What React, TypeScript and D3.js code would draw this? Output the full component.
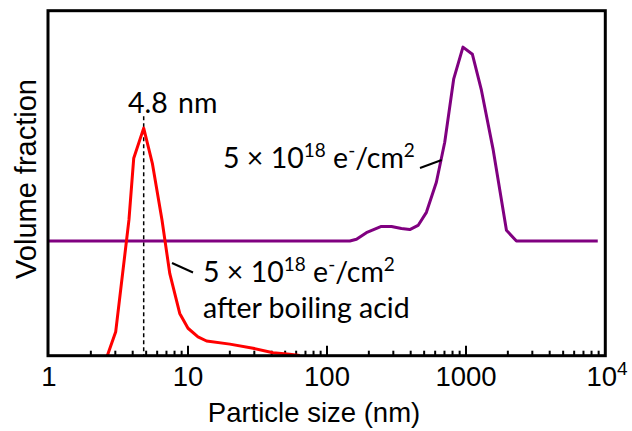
import React from "react";
import * as d3 from "d3";

const redSize = [2.63, 3.02, 3.76, 4.07, 4.8, 5.54, 6.5, 7.39, 8.72, 10, 11.8, 13.6, 20, 29.4, 40.9, 53.9, 63.6];
const redValue = [0, 0.069, 0.393, 0.572, 0.659, 0.557, 0.393, 0.238, 0.122, 0.079, 0.054, 0.042, 0.033, 0.021, 0.008, 0.004, 0];

const purpleSize = [1, 146, 163, 192, 246, 291, 343, 394, 452, 519, 612, 703, 816, 951, 1112, 1291, 1564, 1954, 2305, 8870];
const purpleValue = [0.332, 0.332, 0.337, 0.356, 0.374, 0.374, 0.368, 0.365, 0.377, 0.415, 0.502, 0.618, 0.802, 0.894, 0.873, 0.769, 0.599, 0.363, 0.332, 0.332];

const majorTicks = [1, 10, 100, 1000, 10000];
const tickLabels = ["1", "10", "100", "1000", "10^4"];
const peakSize = 4.8;
const peakLabel = "4.8 nm";

const W = 632;
const H = 431;
const frame = { left: 48, right: 605.3, top: 10.7, bottom: 355.7 };
const ANN = "Lato, 'Open Sans', sans-serif";
const AX = "'Liberation Sans', Arial, sans-serif";
const FS = 28.5;
const SUP = 19;
const AXFS = 27.5;

function Dose({ x, y }: { x: number; y: number }) {
  return (
    <text x={x} y={y} fontSize={FS} fontFamily={ANN} fill="#000">
      5 × 10
      <tspan dy={-11} fontSize={SUP}>18</tspan>
      <tspan dy={11}> e</tspan>
      <tspan dy={-11} fontSize={SUP}>-</tspan>
      <tspan dy={11}>/cm</tspan>
      <tspan dy={-11} fontSize={SUP}>2</tspan>
    </text>
  );
}

export default function App() {
  const x = d3.scaleLog().domain([1, 10000]).range([49, 605]);
  const y = d3.scaleLinear().domain([0, 1]).range([355.5, 10.5]);

  const line = d3
    .line<[number, number]>()
    .x((d) => x(d[0]))
    .y((d) => y(d[1]));

  const red = line(redSize.map((s, i) => [s, redValue[i]]));
  const purple = line(purpleSize.map((s, i) => [s, purpleValue[i]]));

  const minor: number[] = [];
  for (let k = 0; k < 4; k++) {
    for (let m = 2; m <= 9; m++) minor.push(m * Math.pow(10, k));
  }

  const peakY = y(redValue[redSize.indexOf(peakSize)]);

  return (
    <svg width={W} height={H} style={{ position: "absolute", left: 0, top: 0, background: "#fff" }}>
      <rect x={0} y={0} width={W} height={H} fill="#fff" />
      {minor.map((t) => (
        <line key={"m" + t} x1={x(t)} x2={x(t)} y1={frame.bottom} y2={frame.bottom - 5} stroke="#000" strokeWidth={2} />
      ))}
      {majorTicks.slice(1, -1).map((t) => (
        <line key={"M" + t} x1={x(t)} x2={x(t)} y1={frame.bottom} y2={frame.bottom - 10} stroke="#000" strokeWidth={2} />
      ))}
      <line x1={x(peakSize)} x2={x(peakSize)} y1={peakY - 12} y2={frame.bottom} stroke="#000" strokeWidth={1.5} strokeDasharray="4,3" />
      <path d={purple ?? ""} fill="none" stroke="#800080" strokeWidth={3} strokeLinejoin="round" />
      <path d={red ?? ""} fill="none" stroke="#ff0000" strokeWidth={3} strokeLinejoin="round" />
      <rect x={frame.left} y={frame.top} width={frame.right - frame.left} height={frame.bottom - frame.top} fill="none" stroke="#000" strokeWidth={3} />
      {majorTicks.map((t, i) => {
        const lab = tickLabels[i];
        if (lab.includes("^")) {
          const [b, e] = lab.split("^");
          return (
            <text key={"l" + t} x={x(t) + 2} y={386} textAnchor="middle" fontSize={AXFS} fontFamily={AX}>
              {b}
              <tspan dy={-11} fontSize={19}>{e}</tspan>
            </text>
          );
        }
        return (
          <text key={"l" + t} x={x(t)} y={386} textAnchor="middle" fontSize={AXFS} fontFamily={AX}>
            {lab}
          </text>
        );
      })}
      <text x={314} y={422} textAnchor="middle" fontSize={AXFS} fontFamily={AX}>
        Particle size (nm)
      </text>
      <text transform="translate(36,179) rotate(-90)" textAnchor="middle" fontSize={AXFS + 1.5} fontFamily={AX}>
        Volume fraction
      </text>
      <text x={128} y={113} fontSize={FS} fontFamily={ANN} wordSpacing={3}>
        {peakLabel}
      </text>
      <Dose x={223} y={168} />
      <line x1={420} y1={168} x2={441.7} y2={160} stroke="#000" strokeWidth={2} />
      <Dose x={203} y={282} />
      <text x={203} y={318} fontSize={FS} fontFamily={ANN}>
        after boiling acid
      </text>
      <line x1={172} y1={263} x2={193} y2={272.5} stroke="#000" strokeWidth={2} />
    </svg>
  );
}
